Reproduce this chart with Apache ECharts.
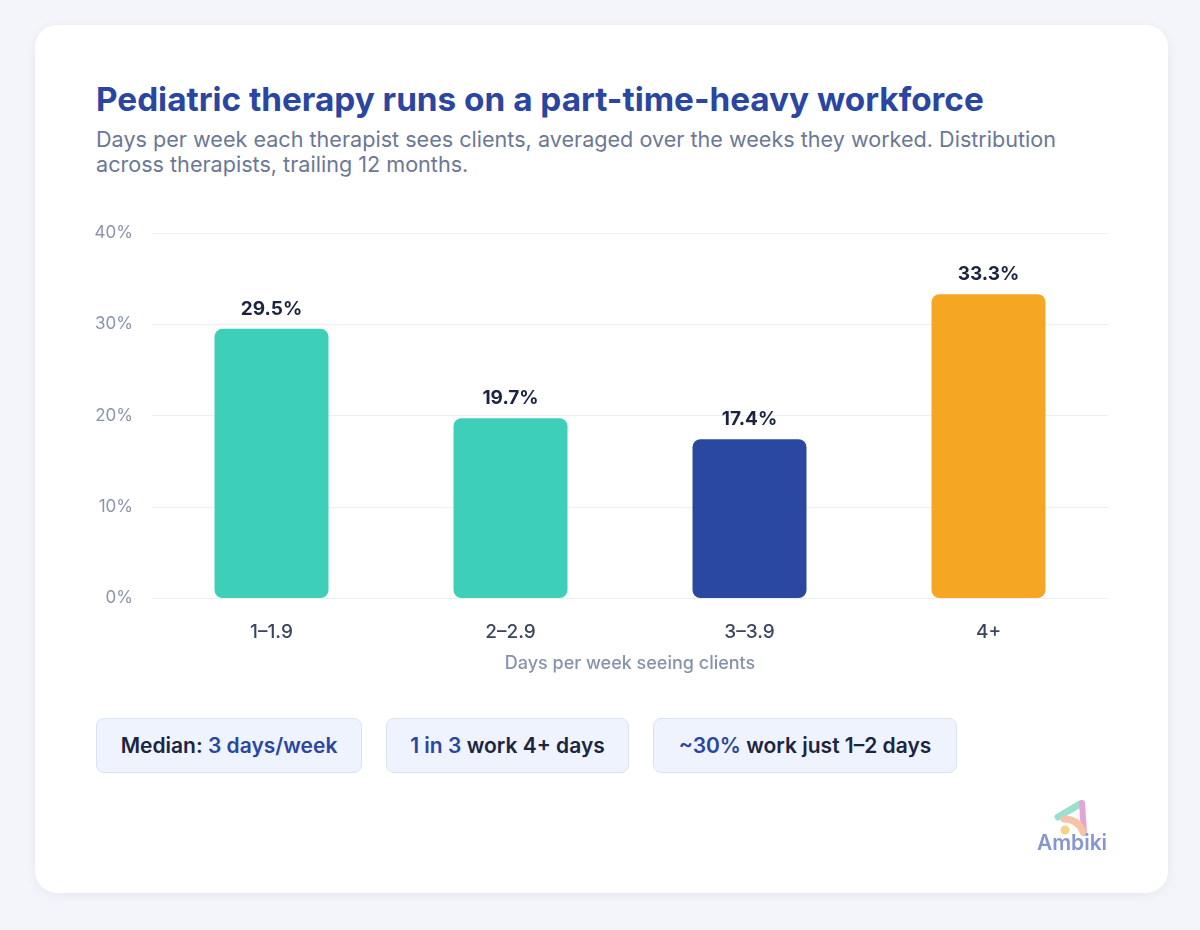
<!DOCTYPE html>
<html>
<head>
<meta charset="utf-8">
<script src="https://cdn.jsdelivr.net/npm/echarts@6/dist/echarts.min.js"></script>
<style>
  html, body { margin: 0; padding: 0; }
  body {
    width: 1200px; height: 930px;
    background: #f4f5fa;
    font-family: Inter, "Noto Sans", sans-serif;
    position: relative;
    overflow: hidden;
  }
  .card {
    position: absolute; left: 35px; top: 25px; width: 1133px; height: 868px;
    background: #fff; border-radius: 22px;
    box-shadow: 0 2px 12px rgba(30, 40, 90, 0.06);
  }
  h1 {
    position: absolute; left: 96px; top: 80px; margin: 0;
    font-size: 33.3px; font-weight: 700; color: #2a46a0; line-height: 38px;
    white-space: nowrap;
  }
  .sub {
    position: absolute; left: 96px; top: 127px; width: 1000px; margin: 0;
    font-size: 21.6px; line-height: 25px; color: #6b7896;
  }
  #chart { position: absolute; left: 0; top: 0; width: 1200px; height: 930px; }
  .pill {
    position: absolute; top: 718px; height: 55px;
    background: #eef3fd; border: 1px solid #d9e2f3; border-radius: 8px;
    font-size: 21px; font-weight: 600; color: #1c2540;
    display: flex; align-items: center; justify-content: center;
    box-sizing: border-box; white-space: nowrap;
  }
  .pill b { color: #2a46a0; font-weight: 600; }
  .logo { position: absolute; left: 1030px; top: 795px; width: 90px; height: 65px; }
</style>
</head>
<body>
<div class="card"></div>
<h1>Pediatric therapy runs on a part-time-heavy workforce</h1>
<p class="sub">Days per week each therapist sees clients, averaged over the weeks they worked. Distribution across therapists, trailing 12 months.</p>
<div id="chart"></div>
<div class="pill" style="left:96px;width:266px;">Median:&nbsp;<b>3 days/week</b></div>
<div class="pill" style="left:386px;width:243px;"><b>1 in 3</b>&nbsp;work 4+ days</div>
<div class="pill" style="left:653px;width:304px;"><b>~30%</b>&nbsp;work just 1–2 days</div>
<svg class="logo" viewBox="0 0 90 65">
  <path d="M28 22 L50 9" stroke="#9be0cf" stroke-width="7" stroke-linecap="round" fill="none"/>
  <path d="M52 8 L54 38" stroke="#e2a6d6" stroke-width="6" stroke-linecap="round" fill="none"/>
  <path d="M34 24 Q48 24 53 37" stroke="#f7c3a8" stroke-width="7" stroke-linecap="round" fill="none"/>
  <circle cx="35" cy="35" r="4.5" fill="#f8d08a"/>
  <text x="42" y="55" text-anchor="middle" font-family="Inter, sans-serif" font-size="21" font-weight="600" fill="#8596d2">Ambiki</text>
</svg>
<script>
const categories = ["1–1.9", "2–2.9", "3–3.9", "4+"];
const shares = [29.5, 19.7, 17.4, 33.3];
const barColors = ["#3ecfb8", "#3ecfb8", "#2a48a0", "#f5a623"];
const yTicks = [0, 10, 20, 30, 40];

const chart = echarts.init(document.getElementById("chart"), null, { renderer: "canvas" });
chart.setOption({
  animation: false,
  textStyle: { fontFamily: "Inter" },
  grid: { left: 152, right: 92, top: 233, bottom: 332 },
  xAxis: {
    type: "category",
    data: categories,
    axisLine: { show: false },
    axisTick: { show: false },
    axisLabel: { color: "#3b465e", fontSize: 19, fontWeight: 500, margin: 25 },
    name: "Days per week seeing clients",
    nameLocation: "middle",
    nameGap: 57,
    nameTextStyle: { color: "#8593ad", fontSize: 18, fontWeight: 500 }
  },
  yAxis: {
    type: "value",
    min: yTicks[0],
    max: yTicks[yTicks.length - 1],
    interval: 10,
    axisLine: { show: false },
    axisTick: { show: false },
    axisLabel: { color: "#8a94ae", fontSize: 17, margin: 19, formatter: v => v + "%" },
    splitLine: { lineStyle: { color: "#eceef4", width: 1 } }
  },
  series: [{
    type: "bar",
    data: shares.map((v, i) => ({ value: v, itemStyle: { color: barColors[i] } })),
    barWidth: 114,
    itemStyle: { borderRadius: 8 },
    label: {
      show: true,
      position: "top",
      distance: 10,
      color: "#1a2440",
      fontSize: 19,
      fontWeight: 700,
      formatter: p => p.value.toFixed(1) + "%"
    }
  }]
});
</script>
</body>
</html>
